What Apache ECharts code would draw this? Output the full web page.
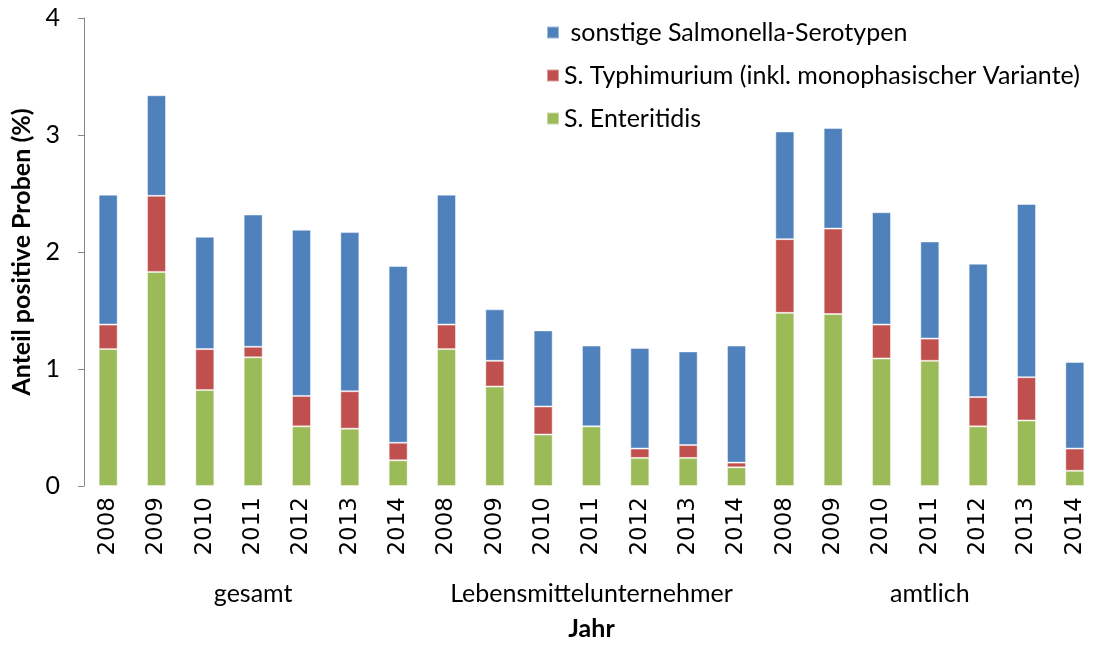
<!DOCTYPE html>
<html>
<head>
<meta charset="utf-8">
<script src="https://cdn.jsdelivr.net/npm/echarts@6/dist/echarts.min.js"></script>
<style>
  html, body { margin: 0; padding: 0; background: #fff; }
  #chart_view_id { width: 1099px; height: 646px; }
</style>
</head>
<body>
<div id="chart_view_id"></div>
<script>
// Jahre je Gruppe (gesamt, Lebensmittelunternehmer, amtlich)
const year_list = ['2008', '2009', '2010', '2011', '2012', '2013', '2014',
  '2008', '2009', '2010', '2011', '2012', '2013', '2014',
  '2008', '2009', '2010', '2011', '2012', '2013', '2014'];
const group_list = ['gesamt', 'Lebensmittelunternehmer', 'amtlich'];
const y_ticks = [0, 1, 2, 3, 4];

// Anteil positive Proben (%), je Serotyp (gestapelt)
const enteritidis_values = [1.17, 1.83, 0.82, 1.10, 0.51, 0.49, 0.22,
  1.17, 0.85, 0.44, 0.51, 0.24, 0.24, 0.16,
  1.48, 1.47, 1.09, 1.07, 0.51, 0.56, 0.13];
const typhimurium_values = [0.21, 0.65, 0.35, 0.09, 0.26, 0.32, 0.15,
  0.21, 0.22, 0.24, 0, 0.08, 0.11, 0.04,
  0.63, 0.73, 0.29, 0.19, 0.25, 0.37, 0.19];
const sonstige_values = [1.11, 0.86, 0.96, 1.13, 1.42, 1.36, 1.51,
  1.11, 0.44, 0.65, 0.69, 0.86, 0.80, 1.00,
  0.92, 0.86, 0.96, 0.83, 1.14, 1.48, 0.74];

const name_sonstige = 'sonstige Salmonella-Serotypen';
const name_typhi = 'S. Typhimurium (inkl. monophasischer Variante)';
const name_enteri = 'S. Enteritidis';

const font_main = 'Lato, "Open Sans", sans-serif';

let chart_view = echarts.init(document.getElementById('chart_view_id'));

function bar_series(name, values, color) {
  return {
    name: name,
    type: 'bar',
    stack: 'total',
    barWidth: 19,
    xAxisIndex: 0,
    itemStyle: {
      color: color,
      borderColor: 'rgba(255,255,255,0.45)',
      borderWidth: 1
    },
    data: values
  };
}

let chart_options = {
  animation: false,
  textStyle: { fontFamily: font_main },
  grid: { left: 84, top: 18, width: 1019, height: 469, containLabel: false },
  legend: {
    orient: 'vertical',
    left: 546,
    top: 20,
    padding: 0,
    itemWidth: 12,
    itemHeight: 12,
    itemGap: 18,
    icon: 'rect',
    data: [name_sonstige, name_typhi, name_enteri],
    formatter: function (n) { return n === name_sonstige ? ' ' + n : n; },
    textStyle: { fontSize: 25, color: '#000', fontFamily: font_main }
  },
  xAxis: [{
    type: 'category',
    data: year_list,
    position: 'bottom',
    axisLine: { show: false },
    axisTick: { show: false },
    axisLabel: {
      rotate: 90,
      margin: 11,
      interval: 0,
      fontSize: 23,
      color: '#000',
      fontFamily: '"DejaVu Sans", sans-serif'
    },
    name: 'Jahr',
    nameLocation: 'middle',
    nameGap: 130,
    nameTextStyle: { fontSize: 25, fontWeight: 'bold', color: '#000', fontFamily: font_main }
  }, {
    type: 'category',
    data: group_list,
    position: 'bottom',
    axisLine: { show: false },
    axisTick: { show: false },
    axisLabel: {
      margin: 95,
      interval: 0,
      fontSize: 25,
      color: '#000',
      fontFamily: font_main
    }
  }],
  yAxis: {
    type: 'value',
    min: y_ticks[0],
    max: y_ticks[y_ticks.length - 1],
    interval: 1,
    splitLine: { show: false },
    axisLine: { show: true, lineStyle: { color: '#868686', width: 1 } },
    axisTick: { show: true, length: 6, lineStyle: { color: '#868686' } },
    axisLabel: { fontSize: 25, color: '#000', margin: 24, fontFamily: font_main },
    name: 'Anteil positive Proben (%)',
    nameLocation: 'middle',
    nameGap: 45,
    nameTextStyle: { fontSize: 25, fontWeight: 'bold', color: '#000', fontFamily: font_main }
  },
  series: [
    bar_series(name_enteri, enteritidis_values, '#9BBB59'),
    bar_series(name_typhi, typhimurium_values, '#C0504D'),
    bar_series(name_sonstige, sonstige_values, '#4F81BD')
  ]
};

chart_view.setOption(chart_options);
</script>
</body>
</html>
